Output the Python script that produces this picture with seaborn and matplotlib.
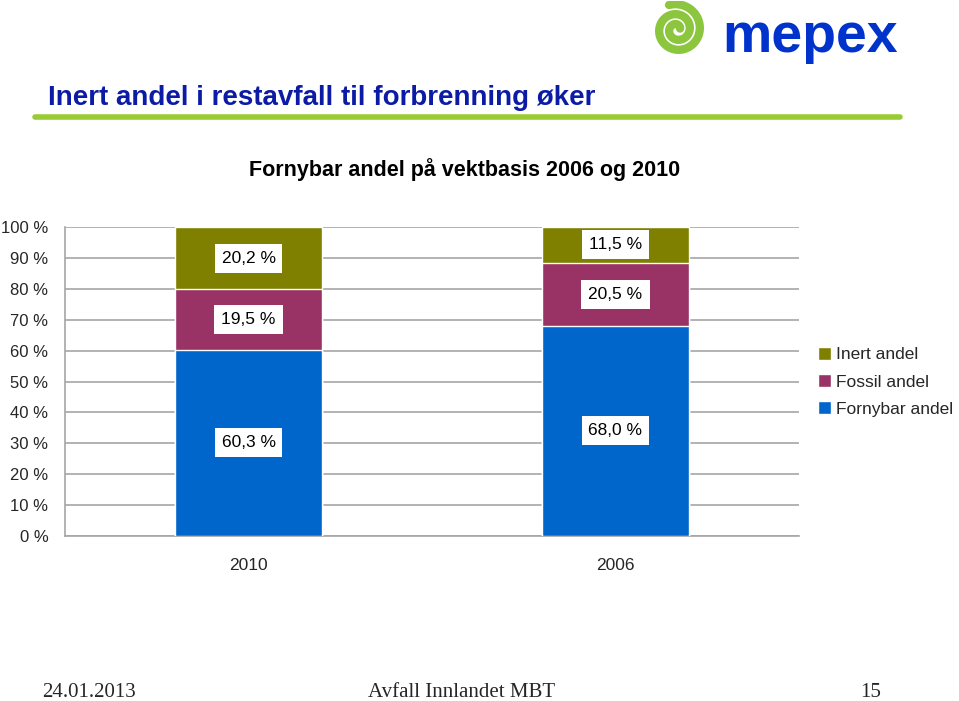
import numpy as np
import pandas as pd
import matplotlib
matplotlib.use("Agg")
import matplotlib.pyplot as plt
import seaborn as sns

# ---- data ----
years = ["2010", "2006"]
fornybar = [60.3, 68.0]
fossil = [19.5, 20.5]
inert = [20.2, 11.5]
series_names = ["Inert andel", "Fossil andel", "Fornybar andel"]
yticks = [0, 10, 20, 30, 40, 50, 60, 70, 80, 90, 100]
ytick_labels = ["0 %", "10 %", "20 %", "30 %", "40 %", "50 %", "60 %", "70 %", "80 %", "90 %", "100 %"]

colors = {"Inert andel": "#808000", "Fossil andel": "#993366", "Fornybar andel": "#0066CC"}

sns.set_theme(style="white")
plt.rcParams["font.family"] = ["Liberation Sans", "DejaVu Sans"]

df = pd.DataFrame({"year": years, "Fornybar andel": fornybar,
                   "Fossil andel": fossil, "Inert andel": inert})
df["c1"] = df["Fornybar andel"]
df["c2"] = df["c1"] + df["Fossil andel"]
df["c3"] = df["c2"] + df["Inert andel"]

W, H = 959, 701
fig = plt.figure(figsize=(W / 100, H / 100), dpi=100)
ax = fig.add_axes([65 / W, 1 - 536 / H, (799 - 65) / W, (536 - 227) / H])

# layered bars (tallest first)
for col, name in [("c3", "Inert andel"), ("c2", "Fossil andel"), ("c1", "Fornybar andel")]:
    sns.barplot(data=df, x="year", y=col, color=colors[name], width=0.4,
                saturation=1, label=name, ax=ax, order=years, zorder=3)

# labels centered in segments
for i, yr in enumerate(years):
    row = df.iloc[i]
    segs = [(0, row["Fornybar andel"]), (row["c1"], row["Fossil andel"]), (row["c2"], row["Inert andel"])]
    for bottom, val in segs:
        ax.text(i, bottom + val / 2, f"{val:.1f} %".replace(".", ","),
                ha="center", va="center", fontsize=12.5, color="black", zorder=5,
                bbox=dict(boxstyle="square,pad=0.4", facecolor="white", edgecolor="none"))

ax.set_ylim(0, 100)
ax.set_xlim(-0.5, 1.5)
ax.set_yticks(yticks)
ax.set_yticklabels(ytick_labels)
ax.set_xlabel("")
ax.set_ylabel("")
ax.yaxis.grid(True, color="#A6A6A6", linewidth=1.2, zorder=0)
ax.set_axisbelow(True)
for s in ["top", "right"]:
    ax.spines[s].set_visible(False)
for s in ["left", "bottom"]:
    ax.spines[s].set_color("#A6A6A6")
    ax.spines[s].set_linewidth(1.2)
ax.tick_params(axis="y", length=0, pad=12, labelsize=12)
ax.tick_params(axis="x", length=0, pad=16, labelsize=12.5)
if ax.get_legend() is not None:
    ax.get_legend().remove()

# legend
handles, labels = ax.get_legend_handles_labels()
fig.legend(handles, labels, loc="upper left", bbox_to_anchor=(818 / W, 1 - 347 / H),
           frameon=False, fontsize=12.5, handlelength=0.75, handleheight=0.75,
           handletextpad=0.3, labelspacing=0.68, borderpad=0, borderaxespad=0)

# titles
fig.text(465 / W, 1 - 176 / H, "Fornybar andel på vektbasis 2006 og 2010",
         ha="center", va="baseline", fontsize=15.5, fontweight="bold", color="black")
fig.text(48 / W, 1 - 105 / H, "Inert andel i restavfall til forbrenning øker",
         ha="left", va="baseline", fontsize=20, fontweight="bold", color="#0B1BA6")

# green rule
fig.add_artist(plt.Line2D([35 / W, 900 / W], [1 - 116.5 / H, 1 - 116.5 / H],
                          color="#99CC33", linewidth=4, transform=fig.transFigure))

# logo
fig.text(722 / W, 1 - 52 / H, "mepex", ha="left", va="baseline",
         fontsize=40, fontweight="bold", color="#0033CC")
lax = fig.add_axes([645 / W, 1 - 58 / H, 64 / W, 57 / H])
th = np.linspace(0.3, 4.6 * np.pi, 400)
r = 0.1 + 0.85 * th / th.max()
lax.plot(r * np.cos(th), r * np.sin(th), color="#8CC63F", linewidth=6, solid_capstyle="round")
lax.set_xlim(-1.05, 1.05)
lax.set_ylim(-1.05, 1.05)
lax.set_aspect("equal")
lax.axis("off")

# footer
ff = ["Liberation Serif", "DejaVu Serif"]
fig.text(42 / W, 1 - 697 / H, "24.01.2013", ha="left", va="baseline", fontsize=15, family=ff)
fig.text(462 / W, 1 - 697 / H, "Avfall Innlandet MBT", ha="center", va="baseline", fontsize=15, family=ff)
fig.text(871 / W, 1 - 697 / H, "15", ha="center", va="baseline", fontsize=15, family=ff)

fig.savefig("out.png", dpi=100)
